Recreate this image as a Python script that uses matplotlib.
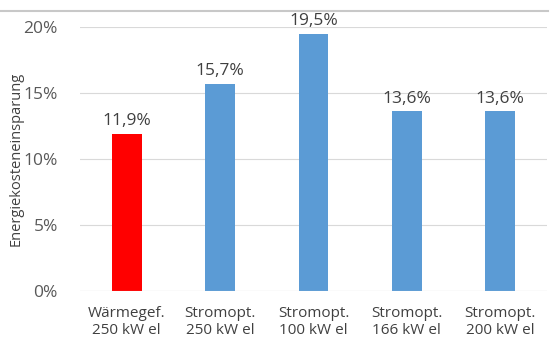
import numpy as np
import matplotlib.pyplot as plt
from matplotlib.lines import Line2D

plt.rcParams['font.family'] = ['Open Sans', 'DejaVu Sans']

categories = ["Wärmegef.\n250 kW el", "Stromopt.\n250 kW el", "Stromopt.\n100 kW el",
              "Stromopt.\n166 kW el", "Stromopt.\n200 kW el"]
savings = [11.9, 15.7, 19.5, 13.6, 13.6]
bar_colors = ["#FF0000", "#5B9BD5", "#5B9BD5", "#5B9BD5", "#5B9BD5"]
yticks = [0, 5, 10, 15, 20]

fig = plt.figure(figsize=(5.5, 3.43), dpi=100)
ax = fig.add_axes([80 / 550, 1 - 291 / 343, 467 / 550, 264 / 343])

x = np.arange(len(categories))
ax.bar(x, savings, width=0.32, color=bar_colors, zorder=3)

for xi, v in zip(x, savings):
    ax.text(xi, v + 0.35, f"{v:.1f}%".replace(".", ","), ha="center", va="bottom",
            fontsize=12.5, color="#404040")

ax.set_xlim(-0.5, len(categories) - 0.5)
ax.set_ylim(0, 20)
ax.set_yticks(yticks)
ax.set_yticklabels([f"{t}%" for t in yticks], fontsize=12.5, color="#595959")
ax.set_xticks(x)
ax.set_xticklabels(categories, fontsize=11, color="#404040", linespacing=1.2)
ax.tick_params(length=0)
ax.tick_params(axis="y", pad=16)
ax.tick_params(axis="x", pad=11)
ax.grid(axis="y", color="#d9d9d9", linewidth=0.8, zorder=0)
for s in ax.spines.values():
    s.set_visible(False)
ax.axhline(0, color="#d9d9d9", linewidth=0.8, zorder=4)

fig.text(16 / 550, 1 - 159 / 343, "Energiekosteneinsparung", rotation=90,
         ha="center", va="center", fontsize=10.5, color="#404040")

fig.add_artist(Line2D([0, 548 / 550], [1 - 11 / 343, 1 - 11 / 343],
                      transform=fig.transFigure, color="#c8c8c8", linewidth=1.5))

fig.savefig("out.png", dpi=100)
